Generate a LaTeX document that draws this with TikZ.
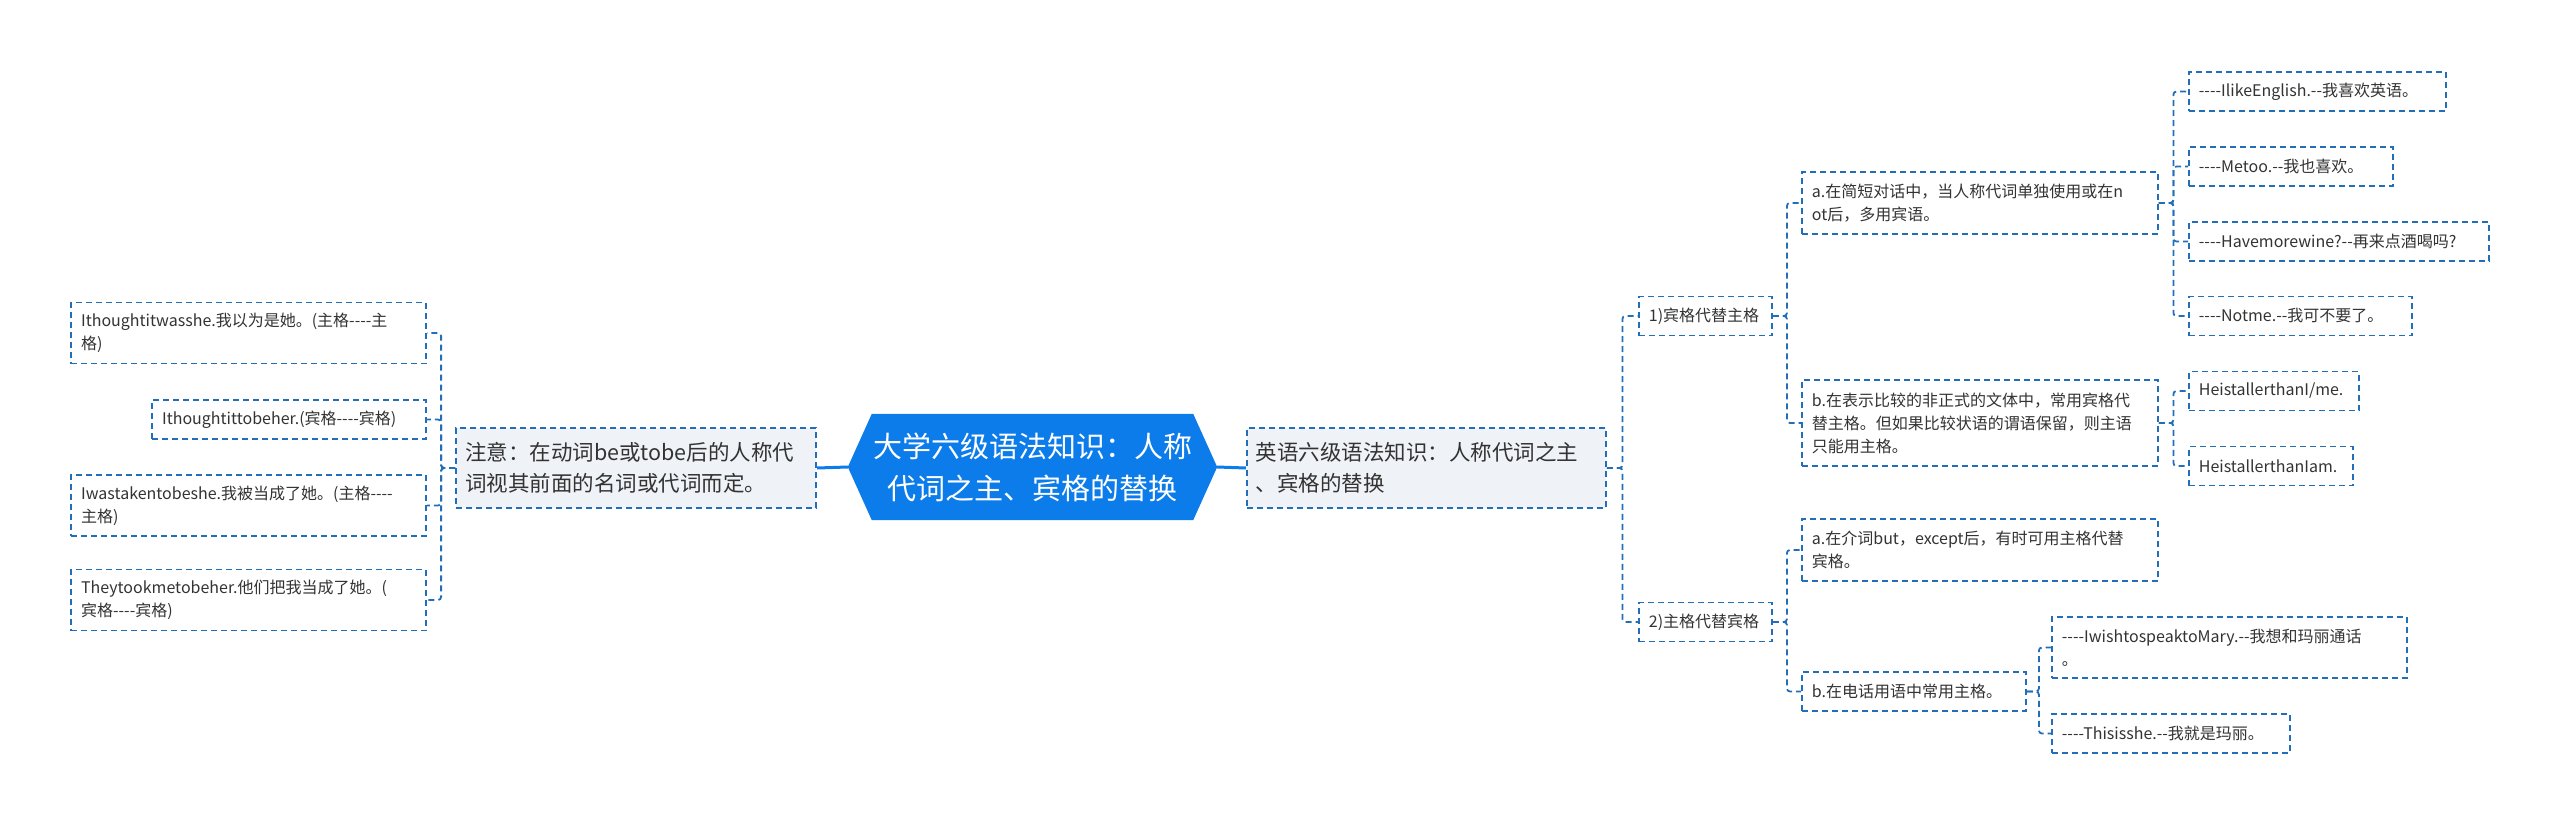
\documentclass[tikz,border=0pt]{standalone}
\usepackage{fontspec}
\setmainfont{Noto Sans CJK SC}
% a family without the TeX ligatures, so that ---- stays four hyphens
\newfontfamily\mapfont{Noto Sans CJK SC}
\usetikzlibrary{calc, backgrounds}
\definecolor{lineblue}{RGB}{35,110,185}
\definecolor{rootblue}{RGB}{12,124,234}
\definecolor{subfill}{RGB}{239,242,246}
\definecolor{inkgray}{RGB}{51,51,51}
\tikzset{
    % central topic, white text, the blue hexagon is filled behind it
    rootbox/.style={minimum width=345pt, minimum height=106pt, inner sep=0pt,
        align=center, text=white, font=\mapfont\fontsize{29}{42}\selectfont},
    % first level topics, grey filled dashed boxes
    topicbox/.style={draw=lineblue, fill=subfill, dash pattern=on 6pt off 4pt,
        line width=1.8pt, text=inkgray, align=left, inner xsep=9pt, inner ysep=0pt,
        minimum height=80pt, font=\mapfont\fontsize{21.5}{31}\selectfont},
    % leaves, white dashed boxes
    leafbox/.style={draw=lineblue, fill=white, dash pattern=on 6pt off 4pt,
        line width=1.8pt, text=inkgray, align=left, inner xsep=10pt, inner ysep=0pt,
        minimum height=39pt, font=\mapfont\fontsize{16}{23}\selectfont},
    % dashed elbow connectors
    link/.style={draw=lineblue, dash pattern=on 6pt off 4pt, line width=1.8pt,
        rounded corners=3pt},
    % solid lines out of the central topic
    trunk/.style={draw=rootblue, line width=3pt},
    elbow/.style={to path={-- ($(\tikztostart)!0.5!(\tikztostart -| \tikztotarget)$)
        |- (\tikztotarget)}},
}

\begin{document}
\begin{tikzpicture}[x=1pt, y=-1pt]
    \useasboundingbox (0,0) rectangle (2560,825);

    % ---- central topic ----
    \node[rootbox] (root) at (1032.5,467) {大学六级语法知识：人称\\代词之主、宾格的替换};
    \begin{scope}[on background layer]
        \fill[rootblue] ($(root.north west)+(12,0)$) -- ($(root.north east)+(-12,0)$)
            -- ($(root.east)+(12,0)$) -- ($(root.south east)+(-12,0)$)
            -- ($(root.south west)+(12,0)$) -- ($(root.west)+(-12,0)$) -- cycle;
    \end{scope}
    \coordinate (rootL) at ($(root.west)+(-12,0)$);
    \coordinate (rootR) at ($(root.east)+(12,0)$);

    % ---- first level ----
    \node[topicbox, text width=342pt, anchor=east] (note) at (817,468)
        {注意：在动词be或tobe后的人称代\\词视其前面的名词或代词而定。};
    \node[topicbox, text width=341pt, anchor=west] (topic) at (1246,468)
        {英语六级语法知识：人称代词之主\\、宾格的替换};
    \draw[trunk] (rootL) -- (note.east);
    \draw[trunk] (rootR) -- (topic.west);

    % ---- left leaves ----
    \node[leafbox, text width=335pt, minimum height=61pt, anchor=east] (l1) at (427,333)
        {Ithoughtitwasshe.我以为是她。(主格----主\\格)};
    \node[leafbox, text width=254pt, anchor=east] (l2) at (427,419.5)
        {Ithoughtittobeher.(宾格----宾格)};
    \node[leafbox, text width=335pt, minimum height=61pt, anchor=east] (l3) at (427,505.5)
        {Iwastakentobeshe.我被当成了她。(主格----\\主格)};
    \node[leafbox, text width=335pt, minimum height=61pt, anchor=east] (l4) at (427,600)
        {Theytookmetobeher.他们把我当成了她。(\\宾格----宾格)};
    \foreach \c in {l1,l2,l3,l4}{ \draw[link] (note.west) to[elbow] (\c.east); }

    % ---- right: two cases ----
    \node[leafbox, text width=113pt, anchor=west] (r1) at (1638,316) {1)宾格代替主格};
    \node[leafbox, text width=113pt, anchor=west] (r2) at (1638,622) {2)主格代替宾格};
    \foreach \c in {r1,r2}{ \draw[link] (topic.east) to[elbow] (\c.west); }

    % case 1
    \node[leafbox, text width=336pt, minimum height=62pt, anchor=west] (a1) at (1801,203)
        {a.在简短对话中，当人称代词单独使用或在n\\ot后，多用宾语。};
    \node[leafbox, text width=336pt, minimum height=86pt, anchor=west] (a2) at (1801,423)
        {b.在表示比较的非正式的文体中，常用宾格代\\替主格。但如果比较状语的谓语保留，则主语\\只能用主格。};
    \foreach \c in {a1,a2}{ \draw[link] (r1.east) to[elbow] (\c.west); }

    \node[leafbox, text width=237pt, anchor=west] (e1) at (2188,91.5) {----IlikeEnglish.--我喜欢英语。};
    \node[leafbox, text width=184pt, anchor=west] (e2) at (2188,166.5) {----Metoo.--我也喜欢。};
    \node[leafbox, text width=280pt, anchor=west] (e3) at (2188,241.5) {----Havemorewine?--再来点酒喝吗?};
    \node[leafbox, text width=203pt, anchor=west] (e4) at (2188,316) {----Notme.--我可不要了。};
    \foreach \c in {e1,e2,e3,e4}{ \draw[link] (a1.east) to[elbow] (\c.west); }

    \node[leafbox, text width=150pt, anchor=west] (f1) at (2188,391) {HeistallerthanI/me.};
    \node[leafbox, text width=144pt, anchor=west] (f2) at (2188,466) {HeistallerthanIam.};
    \foreach \c in {f1,f2}{ \draw[link] (a2.east) to[elbow] (\c.west); }

    % case 2
    \node[leafbox, text width=336pt, minimum height=62pt, anchor=west] (b1) at (1801,550)
        {a.在介词but，except后，有时可用主格代替\\宾格。};
    \node[leafbox, text width=204pt, anchor=west] (b2) at (1801,691.5) {b.在电话用语中常用主格。};
    \foreach \c in {b1,b2}{ \draw[link] (r2.east) to[elbow] (\c.west); }

    \node[leafbox, text width=335pt, minimum height=61pt, anchor=west] (g1) at (2051,647.5)
        {----IwishtospeaktoMary.--我想和玛丽通话\\。};
    \node[leafbox, text width=218pt, anchor=west] (g2) at (2051,733.5) {----Thisisshe.--我就是玛丽。};
    \foreach \c in {g1,g2}{ \draw[link] (b2.east) to[elbow] (\c.west); }

\end{tikzpicture}
\end{document}
